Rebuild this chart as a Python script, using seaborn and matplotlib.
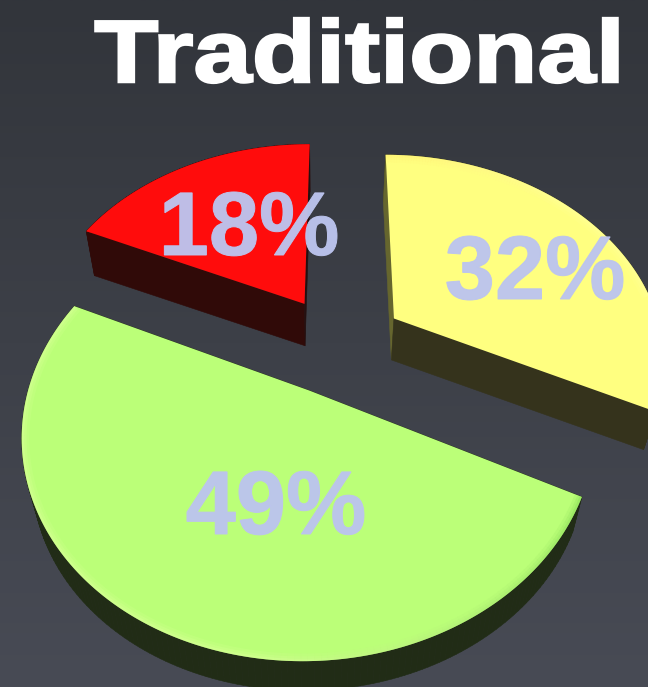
import numpy as np
import matplotlib
matplotlib.use("Agg")
import matplotlib.pyplot as plt
import seaborn as sns
from matplotlib.collections import PolyCollection, LineCollection
from matplotlib.colors import LinearSegmentedColormap, to_rgb
from matplotlib.patheffects import AbstractPathEffect
from matplotlib.transforms import Affine2D

# Share of respondents per segment, clockwise from twelve o'clock
segments = ["Yellow", "Green", "Red"]
shares = [32, 49, 18]
labels = ["32%", "49%", "18%"]
title = "Traditional"

top_colours = ["#ffff80", "#bbff78", "#ff0c0c"]
side_colours = ["#35331c", "#212c16", "#300a08"]
lead_edge_colours = ["#66662e", "#212c16", "#300a08"]
tail_edge_colours = ["#35331c", "#212c16", "#241010"]
rim_start = ["#fff070", "#7fd850", "#ff0c0c"]
rim_end = ["#ffffa0", "#e0ffa0", "#ff0c0c"]

# Projection of the pie plane on to the figure
CX, CY = 339.0, 344.0
RX, RY = 270.0, 202.0
PERSPECTIVE = 0.182
EXPLODE = 0.245
DEPTH = 40.5
SHRINK = 0.965
VX = 320.0


def project(u, v):
    w = 1 + PERSPECTIVE * v
    return np.column_stack([CX + RX * u / w, CY - RY * v / w])


def lower(points):
    out = points.copy()
    out[:, 0] = VX + (points[:, 0] - VX) * SHRINK
    out[:, 1] = CY + (points[:, 1] - CY) * SHRINK + DEPTH
    return out


def slice_outline(start, sweep):
    """Apex plus arc of one exploded slice, running clockwise from start (degrees)."""
    mid = np.radians(start - sweep / 2)
    du, dv = EXPLODE * np.cos(mid), EXPLODE * np.sin(mid)
    theta = np.radians(np.linspace(start, start - sweep, 160))
    u = np.r_[du, du + np.cos(theta)]
    v = np.r_[dv, dv + np.sin(theta)]
    return project(u, v)


class WideBold(AbstractPathEffect):
    """Widens glyphs about a vertical axis and thickens them with a stroke."""

    def __init__(self, stretch, anchor_x, stroke):
        super().__init__()
        self.stretch, self.anchor_x, self.stroke = stretch, anchor_x, stroke

    def draw_path(self, renderer, gc, tpath, affine, rgbFace=None):
        scale = (Affine2D().translate(-self.anchor_x, 0)
                 .scale(self.stretch, 1).translate(self.anchor_x, 0))
        gc0 = renderer.new_gc()
        gc0.copy_properties(gc)
        gc0.set_foreground(rgbFace)
        gc0.set_linewidth(self.stroke)
        gc0.set_joinstyle("miter")
        renderer.draw_path(gc0, tpath, affine + scale, rgbFace)
        gc0.restore()


sns.set_theme(style="white")
plt.rcParams["font.family"] = ["Liberation Sans", "DejaVu Sans"]

fig = plt.figure(figsize=(6.48, 6.87), dpi=100)
ax = fig.add_axes([0, 0, 1, 1])
ax.set_xlim(0, 648)
ax.set_ylim(687, 0)
ax.axis("off")

# Vertical backdrop gradient
backdrop = LinearSegmentedColormap.from_list("backdrop", ["#32353b", "#484b55"])
ax.imshow(np.linspace(0, 1, 256)[:, None], extent=(0, 648, 687, 0), aspect="auto", cmap=backdrop, zorder=0)

angles = 360 * np.array(shares) / np.sum(shares)
starts = 90 - np.r_[0, np.cumsum(angles)[:-1]]

for i, (start, sweep) in enumerate(zip(starts, angles)):
    top = slice_outline(start, sweep)
    bottom = lower(top)
    closed_top = np.vstack([top, top[:1]])
    closed_bottom = np.vstack([bottom, bottom[:1]])
    quads = [
        [closed_top[k], closed_top[k + 1], closed_bottom[k + 1], closed_bottom[k]]
        for k in range(len(top))
    ]
    # Curved wall first, then the two flat cut faces over it
    walls = quads[1:-1] + [quads[0], quads[-1]]
    colours = [side_colours[i]] * (len(quads) - 2) + [lead_edge_colours[i], tail_edge_colours[i]]
    ax.add_collection(PolyCollection(walls, facecolors=colours, edgecolors=colours, linewidths=0.4, zorder=2))
    face = ax.fill(top[:, 0], top[:, 1], color=top_colours[i], lw=0, zorder=3)[0]

    # Soft highlight just inside the curved rim, fading along the arc
    arc = top[1:]
    segs = np.stack([arc[:-1], arc[1:]], axis=1)
    blend = np.clip(np.linspace(0, 1, len(segs)) * 2.5, 0, 1)[:, None]
    tint = (1 - blend) * np.array(to_rgb(rim_start[i])) + blend * np.array(to_rgb(rim_end[i]))
    for width, alpha in [(11, 0.14), (7, 0.2), (3.5, 0.3)]:
        rim = LineCollection(segs, colors=np.c_[tint, np.full(len(tint), alpha)], linewidths=width,
                             capstyle="butt", zorder=4)
        ax.add_collection(rim)
        rim.set_clip_path(face)

fig.canvas.draw()
title_anchor = ax.transData.transform((360, 0))[0]
title_text = ax.text(360, 82, title, color="white", fontsize=63.5, fontweight="bold",
                     ha="center", va="baseline", zorder=6)
title_text.set_path_effects([WideBold(1.19, title_anchor, 1.8)])

label_positions = [(535, 299), (276, 534), (249, 255)]
for text, (x, y) in zip(labels, label_positions):
    t = ax.text(x, y, text, color="#bcc4ee", alpha=0.97, fontsize=65, fontweight="bold",
                ha="center", va="baseline", zorder=5)
    t.set_path_effects([WideBold(1.0, 0, 0.7)])

fig.savefig("out.png", dpi=100)
